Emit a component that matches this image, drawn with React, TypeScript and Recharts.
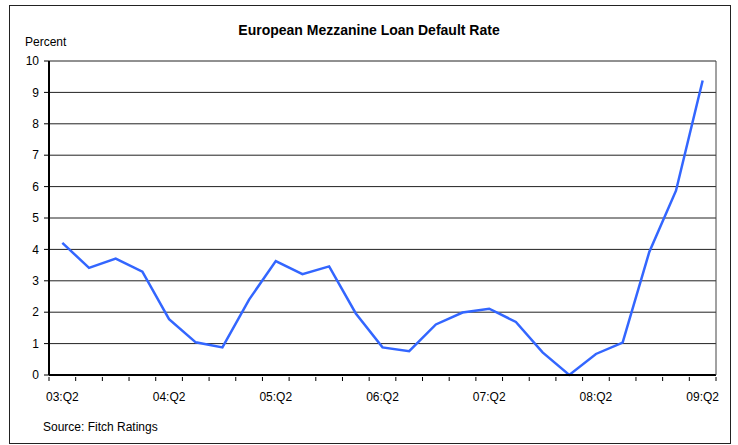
import {
  LineChart,
  Line,
  XAxis,
  YAxis,
  CartesianGrid,
} from "recharts";

const QUARTERS = [
  "03:Q2", "03:Q3", "03:Q4", "04:Q1",
  "04:Q2", "04:Q3", "04:Q4", "05:Q1",
  "05:Q2", "05:Q3", "05:Q4", "06:Q1",
  "06:Q2", "06:Q3", "06:Q4", "07:Q1",
  "07:Q2", "07:Q3", "07:Q4", "08:Q1",
  "08:Q2", "08:Q3", "08:Q4", "09:Q1",
  "09:Q2",
];

const DEFAULT_RATE = [
  4.21, 3.41, 3.71, 3.29,
  1.78, 1.04, 0.88, 2.4,
  3.63, 3.21, 3.46, 1.96,
  0.88, 0.76, 1.61, 1.99,
  2.11, 1.69, 0.72, 0,
  0.67, 1.03, 3.92, 5.87,
  9.38,
];

const Y_TICKS = [0, 1, 2, 3, 4, 5, 6, 7, 8, 9, 10];
const LABEL_EVERY = 4;

const data = QUARTERS.map((q, i) => ({ quarter: q, rate: DEFAULT_RATE[i] }));

const FONT = "'Liberation Sans', Arial, sans-serif";

// label every 4th quarter, tick marks sit on the band edges
function QuarterTick(props: any) {
  const { x, y, payload, index } = props;
  const half = payload?.offset ?? 0;
  const last = index === QUARTERS.length - 1;
  return (
    <g>
      <line x1={x - half} x2={x - half} y1={y} y2={y + 4} stroke="#000" />
      {last && <line x1={x + half} x2={x + half} y1={y} y2={y + 4} stroke="#000" />}
      {index % LABEL_EVERY === 0 && (
        <text
          x={x}
          y={y + 24}
          textAnchor="middle"
          fill="#000"
          fontSize={12}
          fontFamily={FONT}
        >
          {payload.value}
        </text>
      )}
    </g>
  );
}

export default function App() {
  return (
    <div
      style={{
        position: "absolute",
        left: 0,
        top: 0,
        width: 738,
        height: 445,
        fontFamily: FONT,
        background: "#fff",
      }}
    >
      <div style={{ position: "absolute", left: 0, top: 0 }}>
        <LineChart
          width={738}
          height={445}
          data={data}
          margin={{ top: 61, right: 21, bottom: 0, left: 0 }}
        >
          <CartesianGrid vertical={false} stroke="#222" strokeWidth={1} />
          <XAxis
            dataKey="quarter"
            scale="band"
            height={70}
            interval={0}
            tickLine={false}
            tickSize={0}
            axisLine={{ stroke: "#000", strokeWidth: 2 }}
            tick={<QuarterTick />}
          />
          <YAxis
            width={49}
            domain={[0, 10]}
            ticks={Y_TICKS}
            interval={0}
            tickSize={5}
            tickMargin={5}
            axisLine={{ stroke: "#000", strokeWidth: 2 }}
            tickLine={{ stroke: "#000" }}
            tick={{ fill: "#000", fontSize: 12, fontFamily: FONT }}
          />
          <YAxis
            yAxisId="frame"
            orientation="right"
            width={1}
            domain={[0, 10]}
            ticks={Y_TICKS}
            tick={false}
            tickLine={false}
            axisLine={{ stroke: "#444", strokeWidth: 1 }}
          />
          <Line
            type="linear"
            dataKey="rate"
            stroke="#3366ff"
            strokeWidth={2.5}
            dot={false}
            isAnimationActive={false}
          />
        </LineChart>
      </div>
      <div
        style={{
          position: "absolute",
          left: 0,
          width: 738,
          top: 22,
          textAlign: "center",
          fontSize: 14,
          fontWeight: "bold",
          color: "#000",
        }}
      >
        European Mezzanine Loan Default Rate
      </div>
      <div style={{ position: "absolute", left: 25, top: 35, fontSize: 12, color: "#000" }}>
        Percent
      </div>
      <div style={{ position: "absolute", left: 43, top: 420, fontSize: 12, color: "#000" }}>
        Source: Fitch Ratings
      </div>
      <svg
        width={738}
        height={445}
        style={{ position: "absolute", left: 0, top: 0, pointerEvents: "none", zIndex: 5 }}
      >
        <rect x={9.5} y={5.5} width={721} height={438} fill="none" stroke="#222" strokeWidth={1} />
      </svg>
    </div>
  );
}
